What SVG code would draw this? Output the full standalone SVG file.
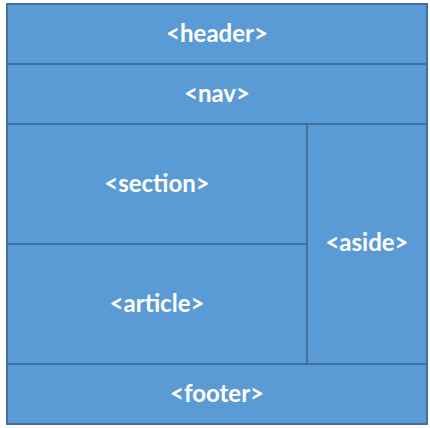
<svg xmlns="http://www.w3.org/2000/svg" width="430" height="428" viewBox="0 0 430 428">
<style>
.box{fill:#5B9BD5;stroke:#41719C;stroke-width:2}
.t{fill:#FFFFFF;font-family:Lato,"Open Sans",sans-serif;font-weight:bold;font-size:24px;text-anchor:middle}
</style>
<rect width="430" height="428" fill="#FFFFFF"/>
<g id="header"><rect class="box" x="7" y="4" width="420" height="60"/><text class="t" x="217" y="42">&lt;header&gt;</text></g>
<g id="nav"><rect class="box" x="7" y="64" width="420" height="60"/><text class="t" x="217" y="102">&lt;nav&gt;</text></g>
<g id="section"><rect class="box" x="7" y="124" width="300" height="120"/><text class="t" x="157" y="192">&lt;section&gt;</text></g>
<g id="article"><rect class="box" x="7" y="244" width="300" height="120"/><text class="t" x="157" y="312">&lt;article&gt;</text></g>
<g id="aside"><rect class="box" x="307" y="124" width="120" height="240"/><text class="t" x="367" y="251">&lt;aside&gt;</text></g>
<g id="footer"><rect class="box" x="7" y="364" width="420" height="60"/><text class="t" x="217" y="402">&lt;footer&gt;</text></g>
<g id="connectors"></g>
</svg>
